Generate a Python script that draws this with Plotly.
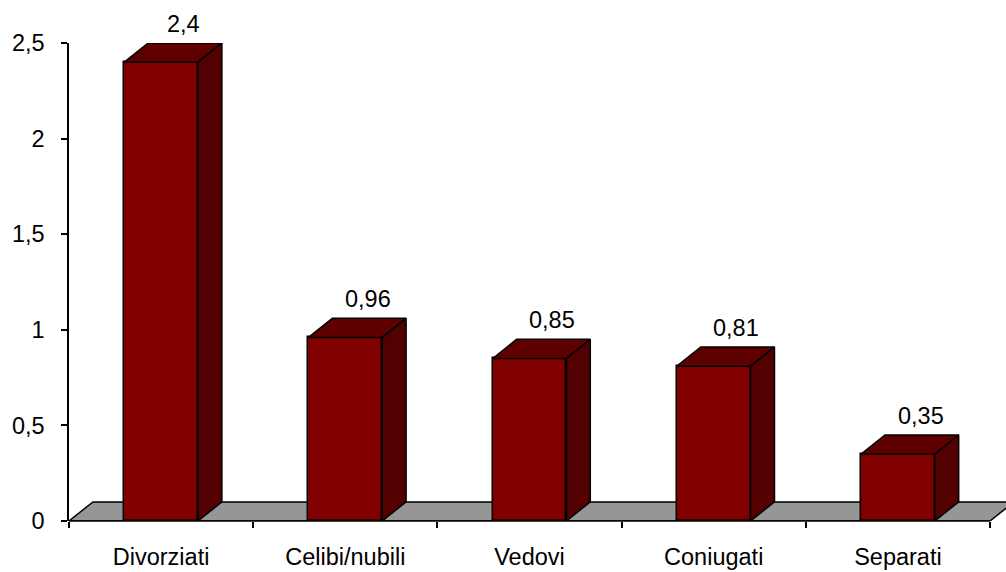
import plotly.graph_objects as go

# Data
categories = ["Divorziati", "Celibi/nubili", "Vedovi", "Coniugati", "Separati"]
values = [2.4, 0.96, 0.85, 0.81, 0.35]
y_ticks = [0, 0.5, 1, 1.5, 2, 2.5]

# 3D styling constants (in axis units)
BAR_W = 0.40      # front face width
DX = 0.13         # depth offset along x
DY = 0.10         # depth offset along y
FRONT = "#800000"
TOP = "#5e0000"
SIDE = "#520000"
FLOOR = "#969696"
EDGE = "black"
FONT = "Liberation Sans, Arial, sans-serif"
FS = 23.5

n = len(categories)
xs = list(range(n))
x_min, x_max = -0.5, n - 0.5

fig = go.Figure()

# front faces
fig.add_trace(go.Bar(
    x=xs, y=values, base=0, width=BAR_W,
    marker=dict(color=FRONT, line=dict(color=EDGE, width=1.5)),
    hoverinfo="skip", showlegend=False,
))

# top and side faces of each column
for x, v in zip(xs, values):
    l, r = x - BAR_W / 2, x + BAR_W / 2
    fig.add_trace(go.Scatter(
        x=[l, l + DX, r + DX, r, l], y=[v, v + DY, v + DY, v, v],
        mode="lines", fill="toself", fillcolor=TOP,
        line=dict(color=EDGE, width=1.5), hoverinfo="skip", showlegend=False,
    ))
    fig.add_trace(go.Scatter(
        x=[r, r + DX, r + DX, r, r], y=[0, DY, v + DY, v, 0],
        mode="lines", fill="toself", fillcolor=SIDE,
        line=dict(color=EDGE, width=1.5), hoverinfo="skip", showlegend=False,
    ))

# floor plane behind the columns
fig.add_shape(
    type="path", xref="x", yref="y", layer="below",
    path=f"M {x_min},0 L {x_min + DX},{DY} L {x_max + DX},{DY} L {x_max},0 Z",
    fillcolor=FLOOR, line=dict(color=EDGE, width=1.5),
)
# category axis line
fig.add_shape(
    type="line", xref="x", yref="y domain", layer="above",
    x0=x_min, x1=x_max, y0=0, y1=0, line=dict(color=EDGE, width=1.5),
)

# value labels above each column
for x, v in zip(xs, values):
    fig.add_annotation(
        x=x + DX * 0.95, y=v + DY, text=f"{v:g}".replace(".", ","),
        showarrow=False, yanchor="bottom", yshift=4,
        font=dict(family=FONT, size=FS, color="black"),
    )

fig.update_layout(
    width=1006, height=572,
    margin=dict(l=69, r=0, t=43, b=51, autoexpand=False),
    paper_bgcolor="white", plot_bgcolor="white",
    separators=",.",
    bargap=0,
    font=dict(family=FONT, size=FS, color="black"),
    xaxis=dict(
        range=[x_min, x_max + 16 / 184.2], automargin=False,
        tickmode="array", tickvals=xs, ticktext=categories,
        ticks="", showline=False, showgrid=False, zeroline=False,
        ticklabelstandoff=19,
        minor=dict(tickmode="array", tickvals=[i - 0.5 for i in range(n + 1)],
                   ticks="outside", ticklen=6, tickwidth=1.5, tickcolor=EDGE,
                   showgrid=False),
    ),
    yaxis=dict(
        range=[0, 2.5], automargin=False, tickmode="array", tickvals=y_ticks,
        ticks="outside", ticklen=6, tickwidth=1.5, tickcolor=EDGE,
        showline=True, linecolor=EDGE, linewidth=1.5,
        showgrid=False, zeroline=False, ticklabelstandoff=12,
    ),
)

fig.write_html("out.html")
